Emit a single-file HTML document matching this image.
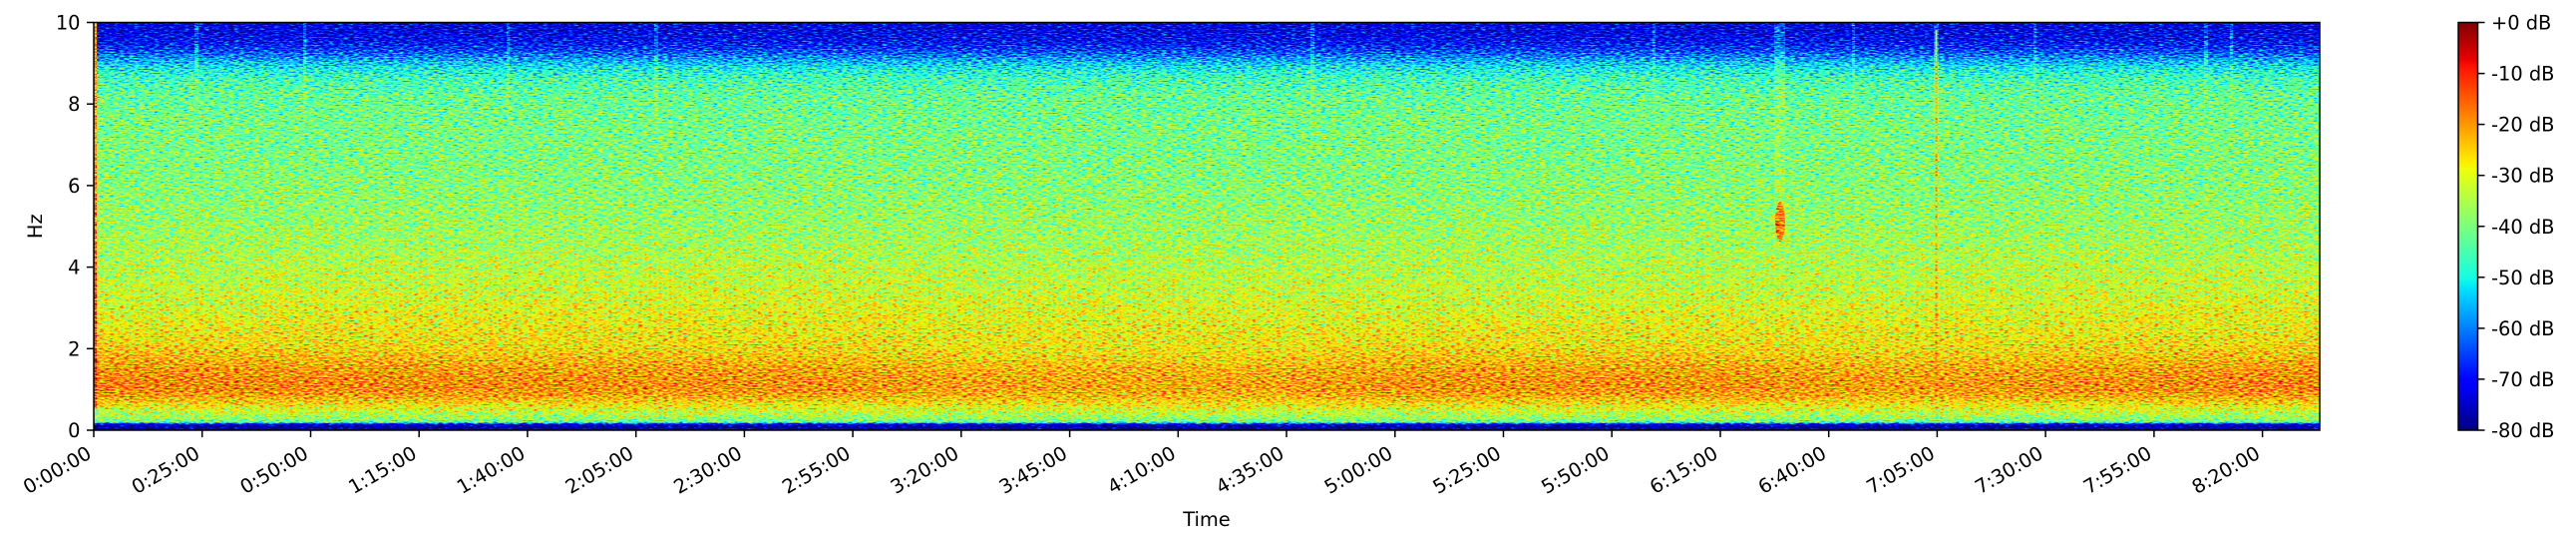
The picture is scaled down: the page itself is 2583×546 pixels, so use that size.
<!DOCTYPE html>
<html>
<head>
<meta charset="utf-8">
<style>
  html,body{margin:0;padding:0;background:#fff;}
  svg{display:block;}
  text{font-family:"DejaVu Sans","Liberation Sans",sans-serif;font-size:19.4px;fill:#000;}
</style>
</head>
<body>
<svg width="2583" height="546" viewBox="0 0 2583 546" xmlns="http://www.w3.org/2000/svg">
  <defs>
    <linearGradient id="base" x1="0" y1="0" x2="0" y2="1">
      <stop offset="0" stop-color="rgb(9%,9%,9%)"/>
      <stop offset="0.025" stop-color="rgb(10%,10%,10%)"/>
      <stop offset="0.05" stop-color="rgb(13%,13%,13%)"/>
      <stop offset="0.07" stop-color="rgb(19%,19%,19%)"/>
      <stop offset="0.09" stop-color="rgb(28%,28%,28%)"/>
      <stop offset="0.11" stop-color="rgb(36%,36%,36%)"/>
      <stop offset="0.14" stop-color="rgb(43%,43%,43%)"/>
      <stop offset="0.18" stop-color="rgb(47%,47%,47%)"/>
      <stop offset="0.25" stop-color="rgb(49%,49%,49%)"/>
      <stop offset="0.35" stop-color="rgb(50%,50%,50%)"/>
      <stop offset="0.45" stop-color="rgb(52%,52%,52%)"/>
      <stop offset="0.55" stop-color="rgb(55%,55%,55%)"/>
      <stop offset="0.65" stop-color="rgb(58.5%,58.5%,58.5%)"/>
      <stop offset="0.70" stop-color="rgb(61%,61%,61%)"/>
      <stop offset="0.75" stop-color="rgb(64%,64%,64%)"/>
      <stop offset="0.79" stop-color="rgb(67%,67%,67%)"/>
      <stop offset="0.82" stop-color="rgb(71%,71%,71%)"/>
      <stop offset="0.85" stop-color="rgb(75%,75%,75%)"/>
      <stop offset="0.88" stop-color="rgb(77%,77%,77%)"/>
      <stop offset="0.90" stop-color="rgb(77%,77%,77%)"/>
      <stop offset="0.915" stop-color="rgb(74%,74%,74%)"/>
      <stop offset="0.93" stop-color="rgb(69%,69%,69%)"/>
      <stop offset="0.945" stop-color="rgb(63%,63%,63%)"/>
      <stop offset="0.96" stop-color="rgb(57%,57%,57%)"/>
      <stop offset="0.972" stop-color="rgb(53%,53%,53%)"/>
      <stop offset="0.98" stop-color="rgb(46%,46%,46%)"/>
      <stop offset="0.983" stop-color="rgb(25%,25%,25%)"/>
      <stop offset="0.986" stop-color="rgb(4%,4%,4%)"/>
      <stop offset="1" stop-color="rgb(1%,1%,1%)"/>
    </linearGradient>

    <linearGradient id="leftStripe" x1="0" y1="0" x2="0" y2="1">
      <stop offset="0" stop-color="rgb(72%,72%,72%)"/>
      <stop offset="0.5" stop-color="rgb(78%,78%,78%)"/>
      <stop offset="0.85" stop-color="rgb(86%,86%,86%)"/>
      <stop offset="1" stop-color="rgb(80%,80%,80%)"/>
    </linearGradient>

    <linearGradient id="bandMod" x1="94" y1="0" x2="2326" y2="0" gradientUnits="userSpaceOnUse">
      <stop offset="0" stop-color="#000" stop-opacity="0"/>
      <stop offset="0.33" stop-color="#000" stop-opacity="0.02"/>
      <stop offset="0.40" stop-color="#000" stop-opacity="0.05"/>
      <stop offset="0.52" stop-color="#000" stop-opacity="0.05"/>
      <stop offset="0.59" stop-color="#000" stop-opacity="0.02"/>
      <stop offset="0.74" stop-color="#000" stop-opacity="0.02"/>
      <stop offset="0.81" stop-color="#000" stop-opacity="0.04"/>
      <stop offset="0.88" stop-color="#000" stop-opacity="0.02"/>
      <stop offset="1" stop-color="#000" stop-opacity="0"/>
    </linearGradient>

    <linearGradient id="streakFade" x1="0" y1="0" x2="0" y2="1">
      <stop offset="0" stop-color="#fff" stop-opacity="0.14"/>
      <stop offset="0.6" stop-color="#fff" stop-opacity="0.07"/>
      <stop offset="1" stop-color="#fff" stop-opacity="0"/>
    </linearGradient>

    <linearGradient id="vfade" x1="0" y1="0" x2="0" y2="1">
      <stop offset="0" stop-color="#fff" stop-opacity="0"/>
      <stop offset="0.25" stop-color="#fff" stop-opacity="1"/>
      <stop offset="0.75" stop-color="#fff" stop-opacity="1"/>
      <stop offset="1" stop-color="#fff" stop-opacity="0"/>
    </linearGradient>
    <mask id="bandMask" maskUnits="userSpaceOnUse" x="94" y="22" width="2232" height="410">
      <rect x="94" y="333" width="2232" height="78" fill="url(#vfade)"/>
    </mask>
    <mask id="yelMask" maskUnits="userSpaceOnUse" x="94" y="22" width="2232" height="410">
      <rect x="94" y="240" width="2232" height="110" fill="url(#vfade)"/>
    </mask>

    <linearGradient id="jet" x1="0" y1="0" x2="0" y2="1">
      <stop offset="0" stop-color="rgb(128,0,0)"/>
      <stop offset="0.09" stop-color="rgb(232,0,0)"/>
      <stop offset="0.11" stop-color="rgb(255,19,0)"/>
      <stop offset="0.34" stop-color="rgb(255,236,0)"/>
      <stop offset="0.35" stop-color="rgb(247,245,0)"/>
      <stop offset="0.36" stop-color="rgb(239,255,8)"/>
      <stop offset="0.625" stop-color="rgb(20,255,226)"/>
      <stop offset="0.65" stop-color="rgb(0,230,247)"/>
      <stop offset="0.66" stop-color="rgb(0,219,255)"/>
      <stop offset="0.875" stop-color="rgb(0,0,255)"/>
      <stop offset="0.89" stop-color="rgb(0,0,255)"/>
      <stop offset="1" stop-color="rgb(0,0,128)"/>
    </linearGradient>

    <filter id="spec" filterUnits="userSpaceOnUse" x="94" y="22.5" width="2232" height="408.5" color-interpolation-filters="sRGB">
      <feTurbulence type="fractalNoise" baseFrequency="0.2 0.75" numOctaves="2" seed="7" result="turb"/>
      <feColorMatrix in="turb" type="matrix" values="1 0 0 0 0  1 0 0 0 0  1 0 0 0 0  0 0 0 0 1" result="noise"/>
      <feComposite in="SourceGraphic" in2="noise" operator="arithmetic" k1="0" k2="1" k3="0.7" k4="-0.35" result="val"/>
      <feComponentTransfer in="val">
        <feFuncR type="table" tableValues="0 0 0 0 0 0 0 0 0 0 0 0 0.0806 0.1815 0.2823 0.3831 0.4839 0.5847 0.6855 0.7863 0.8871 0.9879 1 1 1 1 1 1 1 0.926 0.784 0.642 0.5"/>
        <feFuncG type="table" tableValues="0 0 0 0 0 0.125 0.25 0.375 0.5 0.625 0.75 0.875 1 1 1 1 1 1 1 1 1 0.9398 0.8241 0.7083 0.5926 0.4769 0.3611 0.2454 0.1296 0.0139 0 0 0"/>
        <feFuncB type="table" tableValues="0.5 0.642 0.784 0.926 1 1 1 1 1 1 1 0.988 0.887 0.786 0.685 0.585 0.484 0.383 0.282 0.181 0.081 0 0 0 0 0 0 0 0 0 0 0 0"/>
        <feFuncA type="linear" slope="0" intercept="1"/>
      </feComponentTransfer>
    </filter>
  </defs>

  <!-- Spectrogram -->
  <g filter="url(#spec)">
    <rect x="94" y="22.5" width="2232" height="408.5" fill="url(#base)"/>
    <rect x="94" y="333" width="2232" height="78" fill="url(#bandMod)" mask="url(#bandMask)"/>
    <rect x="263" y="240" width="660" height="110" fill="#fff" fill-opacity="0.03" mask="url(#yelMask)"/>
    <rect x="2050" y="240" width="276" height="110" fill="#fff" fill-opacity="0.025" mask="url(#yelMask)"/>
    <!-- vertical streaks -->
    <rect x="195" y="22.5" width="4" height="140" fill="url(#streakFade)"/>
    <rect x="304" y="22.5" width="3" height="130" fill="url(#streakFade)"/>
    <rect x="508" y="22.5" width="3" height="120" fill="url(#streakFade)"/>
    <rect x="656" y="22.5" width="4" height="140" fill="url(#streakFade)"/>
    <rect x="1314" y="22.5" width="4" height="150" fill="url(#streakFade)"/>
    <rect x="1657" y="22.5" width="3" height="110" fill="url(#streakFade)"/>
    <rect x="1857" y="22.5" width="3" height="130" fill="url(#streakFade)"/>
    <rect x="2039" y="22.5" width="3" height="110" fill="url(#streakFade)"/>
    <rect x="2210" y="22.5" width="4" height="130" fill="url(#streakFade)"/>
    <rect x="2236" y="22.5" width="3" height="120" fill="url(#streakFade)"/>
    <!-- event at ~6:30 -->
    <rect x="1779" y="22.5" width="11" height="250" fill="url(#streakFade)"/>
    <ellipse cx="1785" cy="222" rx="5" ry="20" fill="rgb(84%,84%,84%)" fill-opacity="0.8"/>
    <!-- red line at 7:05 -->
    <rect x="1940.5" y="30" width="2" height="370" fill="rgb(80%,80%,80%)" fill-opacity="0.6"/>
    <rect x="1939" y="22.5" width="5" height="100" fill="#fff" fill-opacity="0.12"/>
    <ellipse cx="2230" cy="312" rx="25" ry="7" fill="#fff" fill-opacity="0.06"/>
    <!-- left-edge stripe -->
    <rect x="94" y="22.5" width="3" height="386" fill="url(#leftStripe)"/>
  </g>

  <!-- Axes frame -->
  <rect x="94" y="22.5" width="2232" height="408.5" fill="none" stroke="#000" stroke-width="1.5"/>

  <!-- Y ticks -->
  <g stroke="#000" stroke-width="1.5">
    <line x1="87" y1="22.5" x2="94" y2="22.5"/>
    <line x1="87" y1="104.2" x2="94" y2="104.2"/>
    <line x1="87" y1="185.9" x2="94" y2="185.9"/>
    <line x1="87" y1="267.6" x2="94" y2="267.6"/>
    <line x1="87" y1="349.3" x2="94" y2="349.3"/>
    <line x1="87" y1="431" x2="94" y2="431"/>
  </g>
  <g text-anchor="end">
    <text x="80.5" y="29.5">10</text>
    <text x="80.5" y="111.2">8</text>
    <text x="80.5" y="192.9">6</text>
    <text x="80.5" y="274.6">4</text>
    <text x="80.5" y="356.3">2</text>
    <text x="80.5" y="438">0</text>
  </g>
  <text x="42" y="226.7" text-anchor="middle" transform="rotate(-90 42 226.7)">Hz</text>

  <!-- X ticks -->
  <g stroke="#000" stroke-width="1.5">
    <line x1="94" y1="431" x2="94" y2="438"/>
    <line x1="202.7" y1="431" x2="202.7" y2="438"/>
    <line x1="311.5" y1="431" x2="311.5" y2="438"/>
    <line x1="420.2" y1="431" x2="420.2" y2="438"/>
    <line x1="528.9" y1="431" x2="528.9" y2="438"/>
    <line x1="637.7" y1="431" x2="637.7" y2="438"/>
    <line x1="746.4" y1="431" x2="746.4" y2="438"/>
    <line x1="855.1" y1="431" x2="855.1" y2="438"/>
    <line x1="963.8" y1="431" x2="963.8" y2="438"/>
    <line x1="1072.6" y1="431" x2="1072.6" y2="438"/>
    <line x1="1181.3" y1="431" x2="1181.3" y2="438"/>
    <line x1="1290" y1="431" x2="1290" y2="438"/>
    <line x1="1398.8" y1="431" x2="1398.8" y2="438"/>
    <line x1="1507.5" y1="431" x2="1507.5" y2="438"/>
    <line x1="1616.2" y1="431" x2="1616.2" y2="438"/>
    <line x1="1725" y1="431" x2="1725" y2="438"/>
    <line x1="1833.7" y1="431" x2="1833.7" y2="438"/>
    <line x1="1942.4" y1="431" x2="1942.4" y2="438"/>
    <line x1="2051.1" y1="431" x2="2051.1" y2="438"/>
    <line x1="2159.9" y1="431" x2="2159.9" y2="438"/>
    <line x1="2268.6" y1="431" x2="2268.6" y2="438"/>
  </g>
  <g text-anchor="end">
    <text transform="translate(93,458) rotate(-30)">0:00:00</text>
    <text transform="translate(201.7,458) rotate(-30)">0:25:00</text>
    <text transform="translate(310.5,458) rotate(-30)">0:50:00</text>
    <text transform="translate(419.2,458) rotate(-30)">1:15:00</text>
    <text transform="translate(527.9,458) rotate(-30)">1:40:00</text>
    <text transform="translate(636.7,458) rotate(-30)">2:05:00</text>
    <text transform="translate(745.4,458) rotate(-30)">2:30:00</text>
    <text transform="translate(854.1,458) rotate(-30)">2:55:00</text>
    <text transform="translate(962.8,458) rotate(-30)">3:20:00</text>
    <text transform="translate(1071.6,458) rotate(-30)">3:45:00</text>
    <text transform="translate(1180.3,458) rotate(-30)">4:10:00</text>
    <text transform="translate(1289,458) rotate(-30)">4:35:00</text>
    <text transform="translate(1397.8,458) rotate(-30)">5:00:00</text>
    <text transform="translate(1506.5,458) rotate(-30)">5:25:00</text>
    <text transform="translate(1615.2,458) rotate(-30)">5:50:00</text>
    <text transform="translate(1724,458) rotate(-30)">6:15:00</text>
    <text transform="translate(1832.7,458) rotate(-30)">6:40:00</text>
    <text transform="translate(1941.4,458) rotate(-30)">7:05:00</text>
    <text transform="translate(2050.1,458) rotate(-30)">7:30:00</text>
    <text transform="translate(2158.9,458) rotate(-30)">7:55:00</text>
    <text transform="translate(2267.6,458) rotate(-30)">8:20:00</text>
  </g>
  <text x="1210" y="527" text-anchor="middle">Time</text>

  <!-- Colorbar -->
  <rect x="2465" y="22.5" width="19.5" height="408.5" fill="url(#jet)" stroke="#000" stroke-width="1.5"/>
  <g stroke="#000" stroke-width="1.5">
    <line x1="2484.5" y1="22.5" x2="2491.5" y2="22.5"/>
    <line x1="2484.5" y1="73.6" x2="2491.5" y2="73.6"/>
    <line x1="2484.5" y1="124.6" x2="2491.5" y2="124.6"/>
    <line x1="2484.5" y1="175.7" x2="2491.5" y2="175.7"/>
    <line x1="2484.5" y1="226.75" x2="2491.5" y2="226.75"/>
    <line x1="2484.5" y1="277.8" x2="2491.5" y2="277.8"/>
    <line x1="2484.5" y1="328.9" x2="2491.5" y2="328.9"/>
    <line x1="2484.5" y1="379.9" x2="2491.5" y2="379.9"/>
    <line x1="2484.5" y1="431" x2="2491.5" y2="431"/>
  </g>
  <g>
    <text x="2498" y="29.5">+0 dB</text>
    <text x="2498" y="80.6">-10 dB</text>
    <text x="2498" y="131.6">-20 dB</text>
    <text x="2498" y="182.7">-30 dB</text>
    <text x="2498" y="233.75">-40 dB</text>
    <text x="2498" y="284.8">-50 dB</text>
    <text x="2498" y="335.9">-60 dB</text>
    <text x="2498" y="386.9">-70 dB</text>
    <text x="2498" y="438">-80 dB</text>
  </g>
</svg>
</body>
</html>
